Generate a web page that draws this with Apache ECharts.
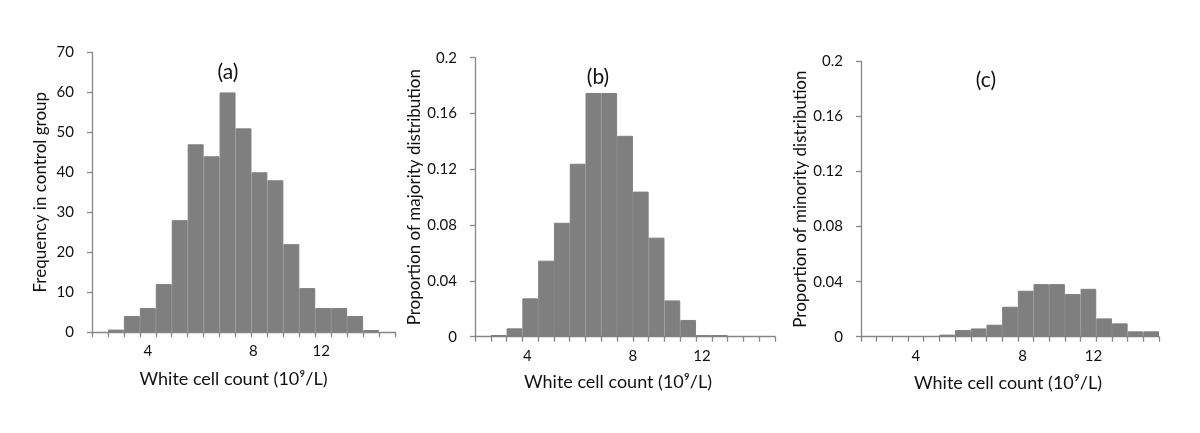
<!DOCTYPE html>
<html>
<head>
<meta charset="utf-8">
<script src="https://cdn.jsdelivr.net/npm/echarts@6/dist/echarts.min.js"></script>
<style>
html,body{margin:0;padding:0;background:#fff;}
#c{width:1200px;height:433px;}
</style>
</head>
<body>
<div id="c"></div>
<script>
// 19 histogram bins (category axis), labels only at a few bins
const bins = ['b1','b2','b3','b4','b5','b6','b7','b8','b9','b10','b11','b12','b13','b14','b15','b16','b17','b18','b19'];
const xTickLabels = ['', '', '', '4', '', '', '', '', '', '', '8', '', '', '', '12', '', '', '', ''];
const controlFreq = [0, 0.6, 4, 6, 12, 28, 47, 44, 60, 51, 40, 38, 22, 11, 6, 6, 4, 0.5, 0];
const majority = [0, 0.0012, 0.006, 0.0275, 0.0545, 0.0817, 0.124, 0.1747, 0.1747, 0.144, 0.104, 0.071, 0.026, 0.012, 0.0012, 0.0012, 0, 0, 0];
const minority = [0, 0, 0, 0, 0, 0.0015, 0.0048, 0.006, 0.0087, 0.0218, 0.0334, 0.0382, 0.0382, 0.031, 0.0348, 0.0133, 0.0097, 0.0039, 0.0039];
const panelTitles = ['(a)', '(b)', '(c)'];
const yNames = ['Frequency in control group', 'Proportion of majority distribution', 'Proportion of minority distribution'];
const xName = 'White cell count (10\u2079/L)';

const FONT = 'Lato, "Liberation Sans", sans-serif';
const GREY = '#868686';
const BAR = '#7f7f7f';
const TXT = '#111';

const grids = [
  {left: 92, top: 52.5, width: 303, height: 279.5},
  {left: 475, top: 57.7, width: 300, height: 279},
  {left: 861, top: 61.5, width: 298, height: 275.2}
];
// per-panel horizontal nudge of tick labels (px) for "4","8","12"
const labelShift = [
  {'4': 0, '8': -6, '12': -2},
  {'4': -3, '8': -8, '12': -2},
  {'4': 0, '8': -3, '12': 5}
];
const xNameShift = [-10, -7, -2];
const yNameGap = [43, 47, 49];
const xNameGap = [38, 36.5, 37.5];

function richFor(p) {
  const r = {};
  Object.keys(labelShift[p]).forEach(function(k){
    const d = labelShift[p][k];
    r['s' + k] = {
      fontFamily: FONT, fontSize: 15, color: TXT,
      padding: d < 0 ? [0, -2 * d, 0, 0] : [0, 0, 0, 2 * d]
    };
  });
  return r;
}

const xAxes = [0,1,2].map(function(p){
  return {
    type: 'category', gridIndex: p, data: bins,
    axisLine: {lineStyle: {color: GREY, width: 1.3}},
    axisTick: {show: true, interval: 0, length: 5, lineStyle: {color: GREY, width: 1.3}},
    axisLabel: {
      interval: 0, margin: 12,
      formatter: function(v, i){ const t = xTickLabels[i]; return t ? '{s' + t + '|' + t + '}' : ''; },
      rich: richFor(p)
    },
    name: xName, nameLocation: 'middle', nameGap: xNameGap[p],
    nameTextStyle: {
      fontFamily: FONT, fontSize: 18, color: TXT,
      padding: [0, -2 * xNameShift[p], 0, 0]
    },
    splitLine: {show: false}
  };
});

function fmtProp(v){ return v === 0 ? '0' : String(+v.toFixed(2)); }

const yAxes = [0,1,2].map(function(p){
  const isA = p === 0;
  return {
    type: 'value', gridIndex: p, min: 0, max: isA ? 70 : 0.2, interval: isA ? 10 : 0.04,
    axisLine: {show: true, lineStyle: {color: GREY, width: 1.3}},
    axisTick: {show: true, length: 5, lineStyle: {color: GREY, width: 1.3}},
    axisLabel: {
      margin: 18, fontFamily: FONT, fontSize: 15, color: TXT,
      formatter: isA ? function(v){ return String(v); } : function(v){ return fmtProp(+v.toFixed(4)); }
    },
    splitLine: {show: false},
    name: yNames[p], nameLocation: 'middle', nameGap: yNameGap[p],
    nameTextStyle: {fontFamily: FONT, fontSize: 17, color: TXT}
  };
});

const seriesData = [controlFreq, majority, minority];
const series = [0,1,2].map(function(p){
  return {
    type: 'bar', xAxisIndex: p, yAxisIndex: p,
    data: seriesData[p].map(function(v){
      return v === 0 ? {value: v, itemStyle: {borderWidth: 0}} : v;
    }),
    barCategoryGap: '0%', barGap: '0%',
    itemStyle: {color: BAR, borderColor: BAR, borderWidth: 1},
    silent: true, animation: false
  };
});

const titlePos = [[228, 72], [598, 77], [986, 80]];
const graphics = panelTitles.map(function(t, p){
  return {
    type: 'text', x: titlePos[p][0], y: titlePos[p][1],
    style: {text: t, fontFamily: FONT, fontSize: 21, fill: TXT, align: 'center', verticalAlign: 'middle'}
  };
});

const chart = echarts.init(document.getElementById('c'), null, {renderer: 'canvas'});
chart.setOption({
  backgroundColor: '#fff',
  animation: false,
  grid: grids,
  xAxis: xAxes,
  yAxis: yAxes,
  series: series,
  graphic: graphics
});
</script>
</body>
</html>
